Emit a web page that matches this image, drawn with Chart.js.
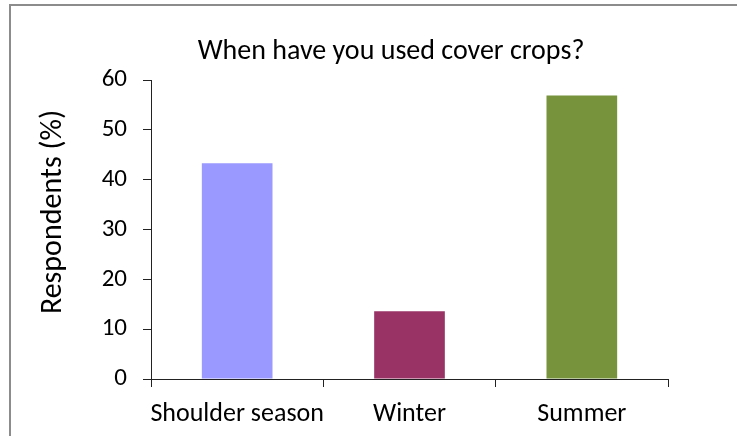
<!DOCTYPE html>
<html>
<head>
<meta charset="utf-8">
<script src="https://cdn.jsdelivr.net/npm/chart.js@4/dist/chart.umd.min.js"></script>
<style>
  html, body { margin: 0; padding: 0; background: #fff; }
  #wrap { position: relative; width: 737px; height: 436px; overflow: hidden; }
  #frame {
    position: absolute; left: 9px; top: 4px; right: -10px; bottom: -10px;
    border-top: 2px solid #8c8c8c; border-left: 2px solid #8c8c8c;
  }
  canvas { position: absolute; left: 0; top: 0; }
</style>
</head>
<body>
<div id="wrap">
  <div id="frame"></div>
  <canvas id="chart" width="737" height="436"></canvas>
</div>
<script>
const seasons = ['Shoulder season', 'Winter', 'Summer'];
const respondents = [43.3, 13.6, 56.9];
const barColors = ['#9999ff', '#993366', '#77933c'];
const yTicks = [0, 10, 20, 30, 40, 50, 60];

const chartTitle = 'When have you used cover crops?';
const yCaption = 'Respondents (%)';
const fontFamily = "Carlito, Lato, 'Open Sans', sans-serif";

// title and y caption sit off-centre from the plot, so they are drawn by hand
const captions = {
    id: 'captions',
    afterDraw(chart) {
        const ctx = chart.ctx;
        ctx.save();
        ctx.fillStyle = '#000';
        ctx.textAlign = 'center';
        ctx.textBaseline = 'alphabetic';
        ctx.font = '28px ' + fontFamily;
        ctx.fillText(chartTitle, 391, 59);

        ctx.translate(61, 212);
        ctx.rotate(-Math.PI / 2);
        ctx.font = '30px ' + fontFamily;
        ctx.fillText(yCaption, 0, 0);
        ctx.restore();
    }
};

const ctx = document.getElementById('chart').getContext('2d');
new Chart(ctx, {
    type: 'bar',
    data: {
        labels: seasons,
        datasets: [{
            data: respondents,
            backgroundColor: barColors,
            borderWidth: 0,
            barPercentage: 0.5,
            categoryPercentage: 0.82
        }]
    },
    options: {
        responsive: false,
        animation: false,
        layout: { padding: { left: 0, right: 69, top: 80, bottom: 0 } },
        plugins: {
            legend: { display: false },
            tooltip: { enabled: false },
            title: { display: false }
        },
        scales: {
            x: {
                grid: {
                    display: true,
                    drawOnChartArea: false,
                    drawTicks: true,
                    tickLength: 8,
                    color: '#222',
                    offset: true
                },
                border: { display: true, color: '#222', width: 1 },
                ticks: {
                    color: '#000',
                    padding: 12,
                    autoSkip: false,
                    maxRotation: 0,
                    minRotation: 0,
                    font: { family: fontFamily, size: 26 }
                },
                afterFit(scale) { scale.height = 436 - 379; }
            },
            y: {
                min: 0,
                max: 60,
                afterBuildTicks(scale) { scale.ticks = yTicks.map(v => ({ value: v })); },
                grid: {
                    drawOnChartArea: false,
                    drawTicks: true,
                    tickLength: 8,
                    color: '#222'
                },
                border: { display: true, color: '#222', width: 1 },
                ticks: {
                    color: '#000',
                    padding: 16,
                    font: { family: fontFamily, size: 25 }
                },
                afterFit(scale) { scale.width = 151; }
            }
        }
    },
    plugins: [captions]
});
</script>
</body>
</html>
